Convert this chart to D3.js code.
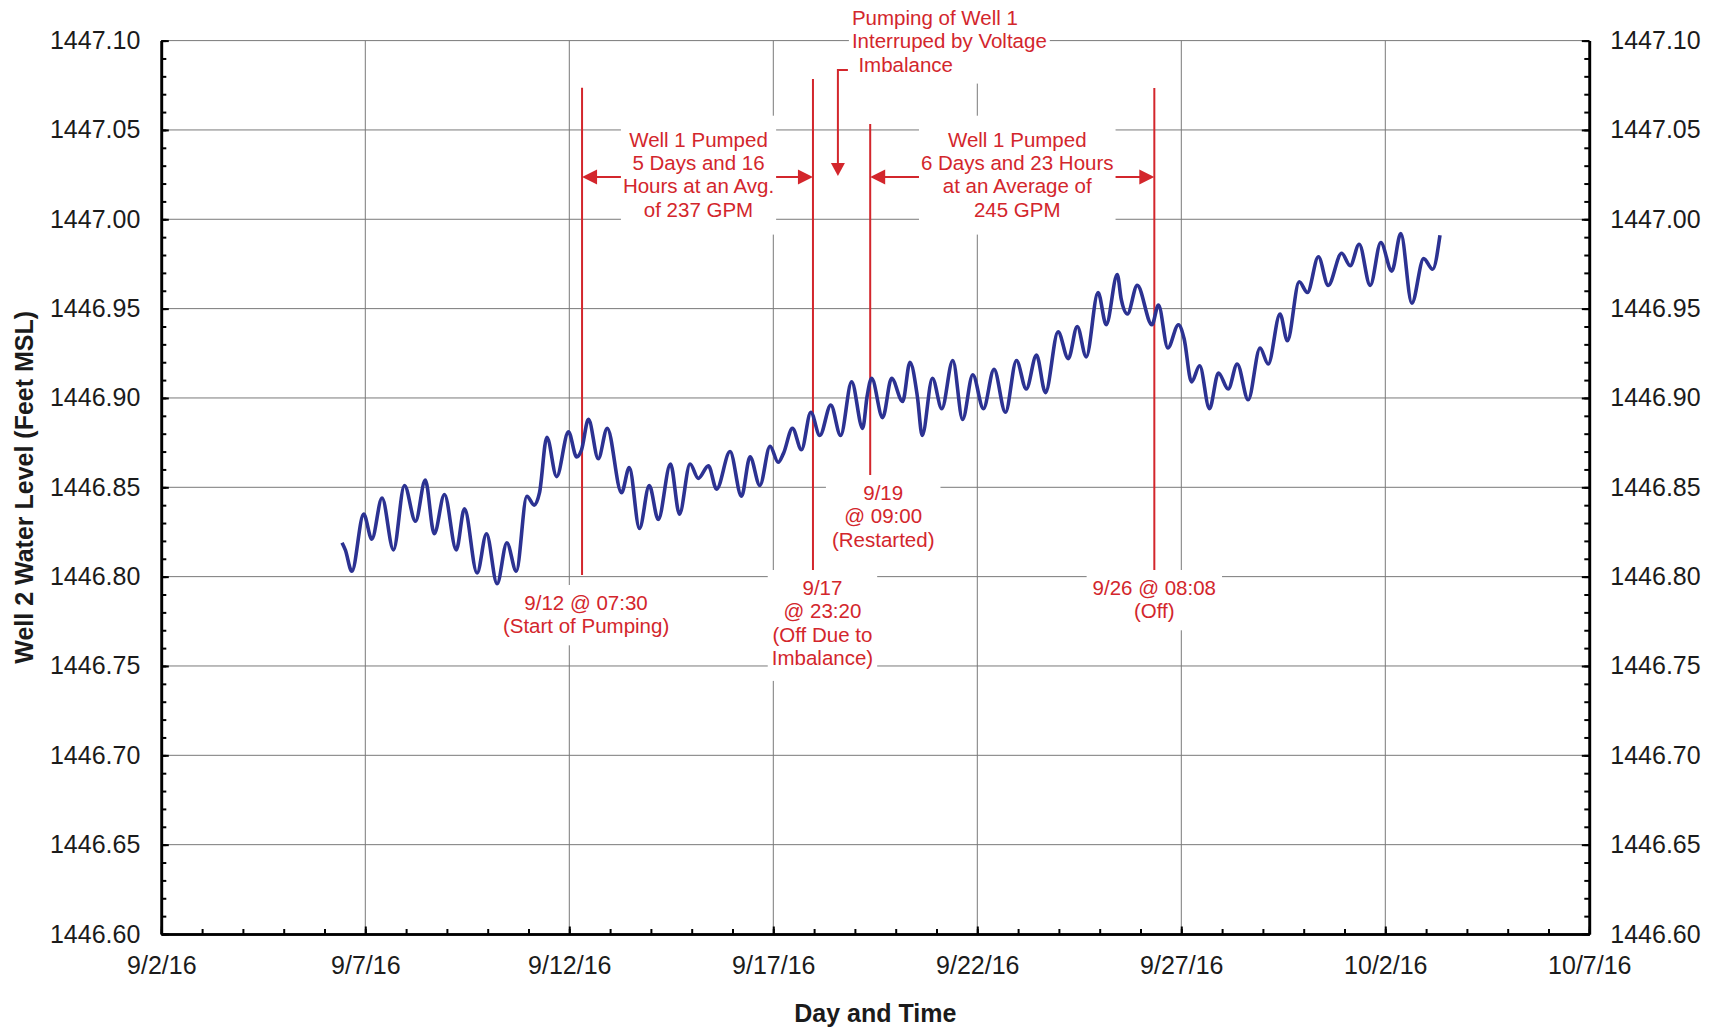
<!DOCTYPE html>
<html><head><meta charset="utf-8">
<script src="https://cdn.jsdelivr.net/npm/d3@7"></script>
<style>
body{margin:0;background:#fff}
text{font-family:"Liberation Sans",Arial,sans-serif}
</style>
</head><body>
<svg id="chart" width="1721" height="1030"></svg>
<script>
// ---- data (day of September, Oct 1 = 31) ----
const dayOfSept = [6.43,6.51,6.67,6.96,7.16,7.41,7.69,7.96,8.23,8.47,8.69,8.94,9.23,9.43,9.74,9.97,10.23,10.47,10.70,10.96,11.14,11.27,11.45,11.69,11.98,12.18,12.30,12.47,12.71,12.93,13.28,13.47,13.72,13.96,14.18,14.48,14.70,14.96,15.16,15.41,15.61,15.94,16.22,16.43,16.67,16.92,17.12,17.25,17.47,17.69,17.92,18.14,18.41,18.65,18.92,19.19,19.30,19.41,19.68,19.90,20.17,20.35,20.53,20.65,20.90,21.13,21.40,21.64,21.89,22.15,22.41,22.69,22.96,23.20,23.45,23.67,23.98,24.23,24.45,24.67,24.96,25.16,25.43,25.53,25.68,25.92,26.28,26.44,26.67,26.93,27.07,27.25,27.45,27.69,27.91,28.15,28.37,28.64,28.93,29.13,29.42,29.60,29.89,30.09,30.36,30.60,30.93,31.14,31.36,31.63,31.89,32.16,32.38,32.65,32.94,33.16,33.34];
const waterLevel = [1446.819,1446.815,1446.803,1446.835,1446.821,1446.844,1446.815,1446.851,1446.831,1446.854,1446.824,1446.846,1446.815,1446.838,1446.802,1446.824,1446.796,1446.819,1446.803,1446.845,1446.840,1446.847,1446.878,1446.856,1446.881,1446.867,1446.871,1446.888,1446.866,1446.883,1446.847,1446.861,1446.827,1446.851,1446.832,1446.863,1446.835,1446.863,1446.855,1446.862,1446.849,1446.870,1446.845,1446.867,1446.851,1446.873,1446.864,1446.869,1446.883,1446.871,1446.892,1446.879,1446.896,1446.879,1446.909,1446.883,1446.901,1446.911,1446.889,1446.911,1446.898,1446.920,1446.901,1446.879,1446.911,1446.894,1446.921,1446.888,1446.913,1446.894,1446.916,1446.892,1446.921,1446.905,1446.924,1446.903,1446.937,1446.922,1446.940,1446.923,1446.959,1446.941,1446.969,1446.955,1446.947,1446.963,1446.941,1446.952,1446.928,1446.941,1446.933,1446.909,1446.918,1446.894,1446.914,1446.905,1446.919,1446.899,1446.928,1446.919,1446.947,1446.932,1446.965,1446.959,1446.979,1446.963,1446.981,1446.974,1446.986,1446.963,1446.987,1446.971,1446.992,1446.953,1446.978,1446.972,1446.991];
const xTickDates = ["2016-09-02","2016-09-07","2016-09-12","2016-09-17","2016-09-22","2016-09-27","2016-10-02","2016-10-07"];
const yTickValues = [1446.60,1446.65,1446.70,1446.75,1446.80,1446.85,1446.90,1446.95,1447.00,1447.05,1447.10];
const eventTimes = ["2016-09-12T07:30","2016-09-17T23:20","2016-09-19T09:00","2016-09-26T08:08"];
const eventLabels = [["9/12 @ 07:30","(Start of Pumping)"],["9/17","@ 23:20","(Off Due to","Imbalance)"],["9/19","@ 09:00","(Restarted)"],["9/26 @ 08:08","(Off)"]];
const spanLabels = [["Well 1 Pumped","5 Days and 16","Hours at an Avg.","of 237 GPM"],["Well 1 Pumped","6 Days and 23 Hours","at an Average of","245 GPM"]];
const interruptTime = "2016-09-18T14:00";
const interruptLabel = ["Pumping of Well 1","Interruped by Voltage","Imbalance"];
const xTitle = "Day and Time";
const yTitle = "Well 2 Water Level (Feet MSL)";

// ---- setup ----
const svg = d3.select("#chart");
const M = {left:161.3, right:1589.3, top:40.6, bottom:934};
const RED = "#d3262c", BLUE = "#2c3292", GRID = "#7a7a7a";
const parseD = d3.timeParse("%Y-%m-%d");
const parseT = d3.timeParse("%Y-%m-%dT%H:%M");
const sept1 = new Date(2016,8,1);
const toDate = d => new Date(sept1.getTime() + (d-1)*864e5);
const xDates = xTickDates.map(parseD);
const x = d3.scaleTime().domain([xDates[0], xDates[xDates.length-1]]).range([M.left, M.right]);
const y = d3.scaleLinear().domain([yTickValues[0], yTickValues[yTickValues.length-1]]).range([M.bottom, M.top]);

// gridlines
const grid = svg.append("g").attr("stroke", GRID).attr("stroke-width", 1);
grid.selectAll("line.v").data(xDates.slice(1,-1)).join("line")
  .attr("x1", d=>x(d)).attr("x2", d=>x(d)).attr("y1", M.top).attr("y2", M.bottom);
grid.selectAll("line.h").data(yTickValues.slice(1)).join("line")
  .attr("x1", M.left).attr("x2", M.right).attr("y1", d=>y(d)).attr("y2", d=>y(d));

// annotation layers
const boxLayer = svg.append("g");
const annLayer = svg.append("g");

function textBlock(lines, cx, y0, lh, anchor, indents){
  const g = annLayer.append("g");
  lines.forEach((t,i)=>{
    g.append("text").attr("x", cx + (indents ? indents[i] : 0)).attr("y", y0 + i*lh)
      .attr("text-anchor", anchor).attr("font-size", 20.5).attr("fill", RED).text(t);
  });
  return g;
}
function whiteBox(g, px, pt, pb){
  const b = g.node().getBBox();
  const r = {x0:b.x-px, x1:b.x+b.width+px, y0:b.y-pt, y1:b.y+b.height+pb};
  boxLayer.append("rect").attr("x", r.x0).attr("y", r.y0).attr("width", r.x1-r.x0).attr("height", r.y1-r.y0).attr("fill", "#fff");
  return r;
}
function arrowHead(tx, ty, dir){ // dir: -1 left, 1 right, 2 down
  let pts;
  if (dir === 2) pts = [[tx,ty],[tx-7,ty-13],[tx+7,ty-13]];
  else pts = [[tx,ty],[tx-dir*15,ty-7.5],[tx-dir*15,ty+7.5]];
  annLayer.append("polygon").attr("points", pts.map(p=>p.join(",")).join(" ")).attr("fill", RED);
}

const ev = eventTimes.map(parseT).map(d=>x(d));
// event vertical lines (top/bottom in data units)
const evTop = [1447.0736, 1447.0785, 1447.0533, 1447.0735];
const evBot = [1446.8009, 1446.8037, 1446.8569, 1446.8037];
ev.forEach((ex,i)=>{
  annLayer.append("line").attr("x1", ex).attr("x2", ex).attr("y1", y(evTop[i])).attr("y2", y(evBot[i]))
    .attr("stroke", RED).attr("stroke-width", 2);
});

// event labels
const evLabelPos = [{dx:4, y0:610},{dx:9.5, y0:595},{dx:13, y0:500},{dx:0, y0:595}];
const evPad = [{px:4,pt:6,pb:8},{px:4,pt:6,pb:12},{px:6,pt:6,pb:6},{px:6,pt:6,pb:8}];
eventLabels.forEach((lines,i)=>{
  const g = textBlock(lines, ev[i]+evLabelPos[i].dx, evLabelPos[i].y0, 23.3, "middle");
  whiteBox(g, evPad[i].px, evPad[i].pt, evPad[i].pb);
});

// span labels with arrows
const spans = [[0,1],[2,3]];
const spanDx = [1, 5];
const arrowY = 177;
spans.forEach(([a,b],i)=>{
  const cx = (ev[a]+ev[b])/2 + spanDx[i];
  const g = textBlock(spanLabels[i], cx, 146.7, 23.3, "middle");
  const r = whiteBox(g, 2, 12, 14);
  annLayer.append("line").attr("x1", ev[a]+12).attr("x2", r.x0).attr("y1", arrowY).attr("y2", arrowY).attr("stroke", RED).attr("stroke-width", 2);
  annLayer.append("line").attr("x1", r.x1).attr("x2", ev[b]-12).attr("y1", arrowY).attr("y2", arrowY).attr("stroke", RED).attr("stroke-width", 2);
  arrowHead(ev[a], arrowY, -1);
  arrowHead(ev[b], arrowY, 1);
});

// interrupt label
const ix = x(parseT(interruptTime));
const ig = textBlock(interruptLabel, ix+14, 25, 23.3, "start", [0,0,6.5]);
const ir = whiteBox(ig, 3, 20, 8);
annLayer.append("path").attr("d", `M${ix+10},70H${ix}V164`).attr("fill","none").attr("stroke", RED).attr("stroke-width", 2);
arrowHead(ix, 176, 2);

// data line
const line = d3.line().x((d,i)=>x(toDate(dayOfSept[i]))).y(d=>y(d)).curve(d3.curveMonotoneX);
svg.append("path").datum(waterLevel).attr("d", line).attr("fill","none").attr("stroke", BLUE).attr("stroke-width", 3.6).attr("stroke-linejoin","round");

// axes
const minorY = d3.range(0, 51).map(i => +(yTickValues[0] + i*0.01).toFixed(2));
const minorX = d3.timeDay.range(xDates[0], d3.timeDay.offset(xDates[xDates.length-1], 1));
function styleAxis(g){
  g.select(".domain").attr("stroke","#000").attr("stroke-width",2.6);
  g.selectAll(".tick line").attr("stroke","#000").attr("stroke-width",2);
  g.selectAll(".tick text").attr("font-size",25).attr("fill","#1b1b1b").attr("font-family",'"Liberation Sans",Arial,sans-serif');
}
const leftMinor = svg.append("g").attr("transform",`translate(${M.left},0)`).call(d3.axisLeft(y).tickValues(minorY).tickSize(-5).tickSizeOuter(0).tickFormat(""));
styleAxis(leftMinor);
const leftAx = svg.append("g").attr("transform",`translate(${M.left},0)`).call(d3.axisLeft(y).tickValues(yTickValues).tickSize(-7.5).tickSizeOuter(0).tickPadding(21).tickFormat(d3.format(".2f")));
styleAxis(leftAx);
const rightMinor = svg.append("g").attr("transform",`translate(${M.right},0)`).call(d3.axisRight(y).tickValues(minorY).tickSize(-5).tickSizeOuter(0).tickFormat(""));
styleAxis(rightMinor);
const rightAx = svg.append("g").attr("transform",`translate(${M.right},0)`).call(d3.axisRight(y).tickValues(yTickValues).tickSize(-7.5).tickSizeOuter(0).tickPadding(21).tickFormat(d3.format(".2f")));
styleAxis(rightAx);
const botMinor = svg.append("g").attr("transform",`translate(0,${M.bottom})`).call(d3.axisBottom(x).tickValues(minorX).tickSize(-5).tickSizeOuter(0).tickFormat(""));
styleAxis(botMinor);
const botAx = svg.append("g").attr("transform",`translate(0,${M.bottom})`).call(d3.axisBottom(x).tickValues(xDates).tickSize(-7.5).tickSizeOuter(0).tickPadding(22).tickFormat(d3.timeFormat("%-m/%-d/%y")));
styleAxis(botAx);

// axis titles
svg.append("text").attr("x", (M.left+M.right)/2).attr("y", 1021.5).attr("text-anchor","middle")
  .attr("font-size", 25).attr("font-weight","bold").attr("fill","#1b1b1b").text(xTitle);
svg.append("text").attr("transform", `translate(24,${(M.top+M.bottom)/2}) rotate(-90)`).attr("text-anchor","middle")
  .attr("dominant-baseline","central").attr("font-size", 25).attr("font-weight","bold").attr("fill","#1b1b1b").text(yTitle);
</script>
</body></html>
